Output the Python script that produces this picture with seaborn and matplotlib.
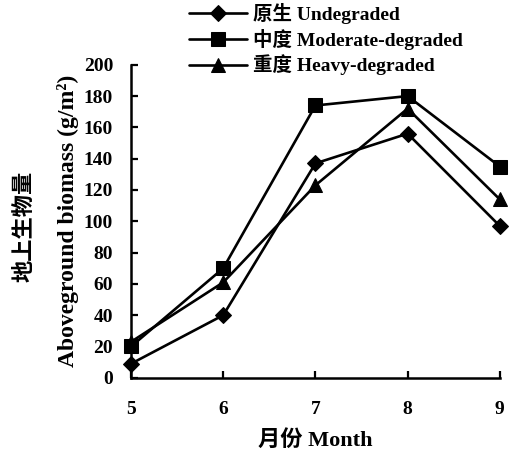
import matplotlib
matplotlib.use("Agg")
import matplotlib.pyplot as plt
import seaborn as sns
import pandas as pd

months = [5, 6, 7, 8, 9]
undegraded = [9, 40, 137, 156, 97]
moderate = [20, 70, 174, 180, 135]
heavy = [23, 61, 123, 172, 114]
series_names = ["原生 Undegraded", "中度 Moderate-degraded", "重度 Heavy-degraded"]
y_ticks = [0, 20, 40, 60, 80, 100, 120, 140, 160, 180, 200]

sns.set_theme(style="ticks")
fonts = ["Liberation Serif", "Noto Sans CJK SC", "DejaVu Sans"]
plt.rcParams["font.family"] = fonts
plt.rcParams["font.weight"] = "bold"
plt.rcParams["axes.labelweight"] = "bold"
plt.rcParams["text.color"] = "black"
plt.rcParams["axes.labelcolor"] = "black"
plt.rcParams["xtick.color"] = "black"
plt.rcParams["ytick.color"] = "black"

df = pd.DataFrame({
    "month": months * 3,
    "biomass": undegraded + moderate + heavy,
    "site": [series_names[0]] * 5 + [series_names[1]] * 5 + [series_names[2]] * 5,
})

fig = plt.figure(figsize=(5.1, 4.53), dpi=100)
ax = fig.add_axes([0.257, 0.166, 0.723, 0.691])

markers = {series_names[0]: "D", series_names[1]: "s", series_names[2]: "^"}
sizes = {series_names[0]: 8, series_names[1]: 10, series_names[2]: 10}
for name in series_names:
    sub = df[df["site"] == name]
    sns.lineplot(data=sub, x="month", y="biomass", ax=ax, color="black",
                 marker=markers[name], markersize=sizes[name],
                 markeredgecolor="black", linewidth=1.9, label=name,
                 clip_on=False, zorder=3)

ax.set_xlim(5, 9)
ax.set_ylim(0, 200)
ax.set_xticks(months)
ax.set_yticks(y_ticks)
sns.despine(ax=ax)
for s in ["left", "bottom"]:
    ax.spines[s].set_linewidth(1.8)
    ax.spines[s].set_color("black")
ax.tick_params(direction="in", length=5, width=1.6, colors="black",
               labelsize=14)
ax.tick_params(axis="y", pad=13)
ax.tick_params(axis="x", pad=17)
for lbl in ax.get_xticklabels() + ax.get_yticklabels():
    lbl.set_fontweight("bold")

ax.set_xlabel("月份 Month", fontsize=16, fontweight="bold", labelpad=8)
ax.set_ylabel("Aboveground biomass (g/m²)", fontsize=17,
              fontweight="bold", labelpad=3)
fig.text(0.049, 0.50, "地上生物量", rotation=90, ha="center", va="center",
         fontsize=16, fontweight="bold")

handles, labels = ax.get_legend_handles_labels()
ax.get_legend().remove()
fig.legend(handles, labels, loc="upper left", bbox_to_anchor=(0.365, 1.0),
           frameon=False, fontsize=14, handlelength=3.0, handletextpad=0.3,
           labelspacing=0.25, borderpad=0.15, borderaxespad=0)

fig.savefig("out.png", dpi=100, facecolor="white")
